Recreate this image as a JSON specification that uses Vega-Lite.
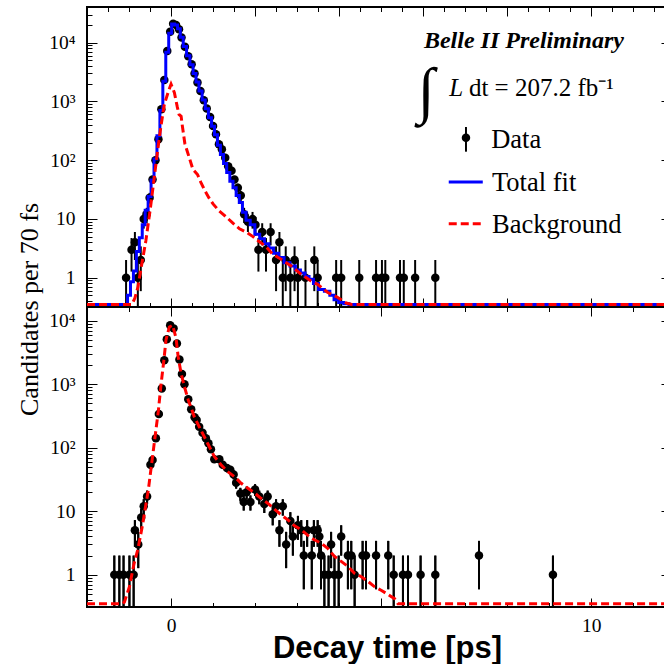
{
  "$schema": "https://vega.github.io/schema/vega-lite/v6.json",
  "background": "white",
  "padding": {"left": 15, "top": 5, "right": 0, "bottom": 0},
  "config": {
    "view": {"stroke": "black", "strokeWidth": 2},
    "axis": {"domain": false, "grid": false, "tickColor": "black", "tickWidth": 1, "labelColor": "black", "titleColor": "black", "labelFont": "Liberation Serif", "labelFontSize": 19.5, "labelFlush": false, "labelOverlap": false}
  },
  "datasets": {
    "one": [{}],
    "top": [
      {"t": -1.07, "n": 1, "lo": 0.01, "hi": 2}, {"t": -0.94, "n": 3, "lo": 1.27, "hi": 4.73}, {"t": -0.86, "n": 4, "lo": 2, "hi": 6},
      {"t": -0.79, "n": 1, "lo": 0.01, "hi": 2}, {"t": -0.72, "n": 2, "lo": 0.59, "hi": 3.41}, {"t": -0.65, "n": 10, "lo": 6.84, "hi": 13.16},
      {"t": -0.58, "n": 12, "lo": 8.54, "hi": 15.46}, {"t": -0.51, "n": 23, "lo": 18.2, "hi": 27.8}, {"t": -0.44, "n": 47, "lo": 40.14, "hi": 53.86},
      {"t": -0.37, "n": 100}, {"t": -0.30, "n": 227}, {"t": -0.23, "n": 735}, {"t": -0.16, "n": 2320}, {"t": -0.09, "n": 7200},
      {"t": -0.02, "n": 15400}, {"t": 0.05, "n": 21000}, {"t": 0.12, "n": 20000}, {"t": 0.19, "n": 17000}, {"t": 0.25, "n": 12200},
      {"t": 0.33, "n": 8500}, {"t": 0.41, "n": 5900}, {"t": 0.49, "n": 4300}, {"t": 0.56, "n": 3000}, {"t": 0.63, "n": 2100},
      {"t": 0.70, "n": 1500}, {"t": 0.78, "n": 1050}, {"t": 0.85, "n": 760}, {"t": 0.93, "n": 543}, {"t": 1.00, "n": 383},
      {"t": 1.07, "n": 277}, {"t": 1.14, "n": 186}, {"t": 1.21, "n": 153}, {"t": 1.29, "n": 110}, {"t": 1.36, "n": 79},
      {"t": 1.44, "n": 66, "lo": 57.88, "hi": 74.12}, {"t": 1.51, "n": 47, "lo": 40.14, "hi": 53.86}, {"t": 1.59, "n": 34, "lo": 28.17, "hi": 39.83},
      {"t": 1.66, "n": 25, "lo": 20, "hi": 30}, {"t": 1.74, "n": 12, "lo": 8.54, "hi": 15.46}, {"t": 1.83, "n": 9, "lo": 6, "hi": 12},
      {"t": 1.94, "n": 10, "lo": 6.84, "hi": 13.16}, {"t": 2.01, "n": 8, "lo": 5.17, "hi": 10.83}, {"t": 2.08, "n": 3, "lo": 1.27, "hi": 4.73},
      {"t": 2.17, "n": 6, "lo": 3.55, "hi": 8.45}, {"t": 2.26, "n": 3, "lo": 1.27, "hi": 4.73}, {"t": 2.37, "n": 6, "lo": 3.55, "hi": 8.45},
      {"t": 2.50, "n": 2, "lo": 0.59, "hi": 3.41}, {"t": 2.58, "n": 4, "lo": 2, "hi": 6}, {"t": 2.66, "n": 1, "lo": 0.01, "hi": 2},
      {"t": 2.73, "n": 2, "lo": 0.59, "hi": 3.41}, {"t": 2.84, "n": 1, "lo": 0.01, "hi": 2}, {"t": 2.94, "n": 2, "lo": 0.59, "hi": 3.41},
      {"t": 3.02, "n": 1, "lo": 0.01, "hi": 2}, {"t": 3.20, "n": 1, "lo": 0.01, "hi": 2}, {"t": 3.41, "n": 2, "lo": 0.59, "hi": 3.41},
      {"t": 3.49, "n": 1, "lo": 0.01, "hi": 2}, {"t": 3.93, "n": 1, "lo": 0.01, "hi": 2}, {"t": 4.05, "n": 1, "lo": 0.01, "hi": 2},
      {"t": 4.48, "n": 1, "lo": 0.01, "hi": 2}, {"t": 4.88, "n": 1, "lo": 0.01, "hi": 2}, {"t": 5.02, "n": 1, "lo": 0.01, "hi": 2},
      {"t": 5.10, "n": 1, "lo": 0.01, "hi": 2}, {"t": 5.45, "n": 1, "lo": 0.01, "hi": 2}, {"t": 5.54, "n": 1, "lo": 0.01, "hi": 2},
      {"t": 5.81, "n": 1, "lo": 0.01, "hi": 2}, {"t": 6.29, "n": 1, "lo": 0.01, "hi": 2}
    ],
    "topBlue": [
      {"t": -2.0, "v": 0.35}, {"t": -1.07, "v": 0.35}, {"t": -1.0, "v": 0.5}, {"t": -0.93, "v": 0.85}, {"t": -0.86, "v": 1.3},
      {"t": -0.79, "v": 2.8}, {"t": -0.72, "v": 4.8}, {"t": -0.65, "v": 8}, {"t": -0.58, "v": 14}, {"t": -0.51, "v": 24},
      {"t": -0.44, "v": 46}, {"t": -0.37, "v": 105}, {"t": -0.30, "v": 260}, {"t": -0.23, "v": 700}, {"t": -0.16, "v": 2200},
      {"t": -0.09, "v": 6900}, {"t": -0.02, "v": 14500}, {"t": 0.05, "v": 20800}, {"t": 0.12, "v": 20000}, {"t": 0.19, "v": 17200},
      {"t": 0.25, "v": 12400}, {"t": 0.33, "v": 8600}, {"t": 0.41, "v": 6000}, {"t": 0.49, "v": 4200}, {"t": 0.56, "v": 3000},
      {"t": 0.63, "v": 2150}, {"t": 0.70, "v": 1500}, {"t": 0.78, "v": 1060}, {"t": 0.85, "v": 750}, {"t": 0.93, "v": 530},
      {"t": 1.00, "v": 380}, {"t": 1.07, "v": 270}, {"t": 1.14, "v": 180}, {"t": 1.21, "v": 125}, {"t": 1.29, "v": 88},
      {"t": 1.36, "v": 62}, {"t": 1.44, "v": 44}, {"t": 1.51, "v": 34}, {"t": 1.59, "v": 25}, {"t": 1.66, "v": 19},
      {"t": 1.74, "v": 13}, {"t": 1.83, "v": 9.5}, {"t": 1.94, "v": 8}, {"t": 2.05, "v": 5.5}, {"t": 2.17, "v": 4.6},
      {"t": 2.28, "v": 3.8}, {"t": 2.38, "v": 3.2}, {"t": 2.50, "v": 2.6}, {"t": 2.62, "v": 2.2}, {"t": 2.76, "v": 1.8},
      {"t": 2.90, "v": 1.58}, {"t": 3.02, "v": 1.35}, {"t": 3.14, "v": 1.2}, {"t": 3.24, "v": 1.05}, {"t": 3.33, "v": 0.94},
      {"t": 3.45, "v": 0.8}, {"t": 3.57, "v": 0.63}, {"t": 3.73, "v": 0.59}, {"t": 3.83, "v": 0.5}, {"t": 3.93, "v": 0.42},
      {"t": 4.05, "v": 0.38}, {"t": 4.17, "v": 0.36}, {"t": 4.30, "v": 0.35}, {"t": 11.9, "v": 0.35}
    ],
    "topRed": [
      {"t": -2.0, "v": 0.35}, {"t": -0.93, "v": 0.35}, {"t": -0.86, "v": 0.45}, {"t": -0.79, "v": 0.68}, {"t": -0.71, "v": 1.5},
      {"t": -0.60, "v": 4.2}, {"t": -0.49, "v": 15.5}, {"t": -0.40, "v": 50}, {"t": -0.32, "v": 144}, {"t": -0.24, "v": 380},
      {"t": -0.16, "v": 890}, {"t": -0.06, "v": 1500}, {"t": 0.0, "v": 1970}, {"t": 0.08, "v": 1410}, {"t": 0.15, "v": 800},
      {"t": 0.19, "v": 600}, {"t": 0.24, "v": 560}, {"t": 0.27, "v": 380}, {"t": 0.33, "v": 190}, {"t": 0.43, "v": 113},
      {"t": 0.52, "v": 70}, {"t": 0.63, "v": 57}, {"t": 0.71, "v": 42}, {"t": 0.80, "v": 31}, {"t": 0.90, "v": 23},
      {"t": 1.00, "v": 18}, {"t": 1.15, "v": 13.6}, {"t": 1.29, "v": 11.2}, {"t": 1.48, "v": 8.4}, {"t": 1.63, "v": 6.8},
      {"t": 1.80, "v": 5.9}, {"t": 1.95, "v": 5.0}, {"t": 2.08, "v": 4.2}, {"t": 2.26, "v": 3.4}, {"t": 2.42, "v": 2.5},
      {"t": 2.62, "v": 2.06}, {"t": 2.86, "v": 1.58}, {"t": 3.10, "v": 1.14}, {"t": 3.33, "v": 0.88}, {"t": 3.49, "v": 0.77},
      {"t": 3.73, "v": 0.56}, {"t": 3.97, "v": 0.46}, {"t": 4.17, "v": 0.37}, {"t": 4.30, "v": 0.35}, {"t": 11.9, "v": 0.35}
    ],
    "bot": [
      {"t": -1.35, "n": 1, "lo": 0.01, "hi": 2}, {"t": -1.23, "n": 1, "lo": 0.01, "hi": 2}, {"t": -1.13, "n": 1, "lo": 0.01, "hi": 2},
      {"t": -0.99, "n": 1, "lo": 0.01, "hi": 2}, {"t": -0.89, "n": 1, "lo": 0.01, "hi": 2}, {"t": -0.86, "n": 5, "lo": 2.76, "hi": 7.24},
      {"t": -0.78, "n": 3, "lo": 1.27, "hi": 4.73}, {"t": -0.71, "n": 8, "lo": 5.17, "hi": 10.83}, {"t": -0.65, "n": 12, "lo": 8.54, "hi": 15.46},
      {"t": -0.57, "n": 17, "lo": 12.88, "hi": 21.12}, {"t": -0.49, "n": 54, "lo": 46.65, "hi": 61.35}, {"t": -0.44, "n": 64, "lo": 56, "hi": 72},
      {"t": -0.36, "n": 141}, {"t": -0.29, "n": 340}, {"t": -0.22, "n": 860}, {"t": -0.16, "n": 2400}, {"t": -0.10, "n": 5100},
      {"t": -0.02, "n": 8500}, {"t": 0.06, "n": 7600}, {"t": 0.14, "n": 4400}, {"t": 0.20, "n": 2450}, {"t": 0.26, "n": 1450},
      {"t": 0.32, "n": 1000}, {"t": 0.41, "n": 580}, {"t": 0.48, "n": 405}, {"t": 0.56, "n": 302}, {"t": 0.61, "n": 274},
      {"t": 0.67, "n": 215}, {"t": 0.75, "n": 173}, {"t": 0.83, "n": 141}, {"t": 0.89, "n": 118}, {"t": 0.95, "n": 95},
      {"t": 1.03, "n": 66, "lo": 57.88, "hi": 74.12}, {"t": 1.15, "n": 66, "lo": 57.88, "hi": 74.12}, {"t": 1.23, "n": 54, "lo": 46.65, "hi": 61.35},
      {"t": 1.33, "n": 48, "lo": 41.07, "hi": 54.93}, {"t": 1.41, "n": 45, "lo": 38.29, "hi": 51.71}, {"t": 1.49, "n": 38, "lo": 31.84, "hi": 44.16},
      {"t": 1.55, "n": 28, "lo": 22.71, "hi": 33.29}, {"t": 1.65, "n": 19, "lo": 14.64, "hi": 23.36}, {"t": 1.73, "n": 14, "lo": 10.26, "hi": 17.74},
      {"t": 1.80, "n": 20, "lo": 15.53, "hi": 24.47}, {"t": 1.89, "n": 14, "lo": 10.26, "hi": 17.74}, {"t": 2.00, "n": 22, "lo": 17.31, "hi": 26.69},
      {"t": 2.10, "n": 17, "lo": 12.88, "hi": 21.12}, {"t": 2.22, "n": 13, "lo": 9.39, "hi": 16.61}, {"t": 2.30, "n": 17, "lo": 12.88, "hi": 21.12},
      {"t": 2.42, "n": 9, "lo": 6, "hi": 12}, {"t": 2.50, "n": 12, "lo": 8.54, "hi": 15.46}, {"t": 2.58, "n": 5, "lo": 2.76, "hi": 7.24},
      {"t": 2.66, "n": 12, "lo": 8.54, "hi": 15.46}, {"t": 2.74, "n": 3, "lo": 1.27, "hi": 4.73}, {"t": 2.84, "n": 7, "lo": 4.35, "hi": 9.65},
      {"t": 2.90, "n": 4, "lo": 2, "hi": 6}, {"t": 3.02, "n": 6, "lo": 3.55, "hi": 8.45}, {"t": 3.10, "n": 5, "lo": 2.76, "hi": 7.24},
      {"t": 3.16, "n": 2, "lo": 0.59, "hi": 3.41}, {"t": 3.24, "n": 5, "lo": 2.76, "hi": 7.24}, {"t": 3.35, "n": 2, "lo": 0.59, "hi": 3.41},
      {"t": 3.40, "n": 5, "lo": 2.76, "hi": 7.24}, {"t": 3.49, "n": 5, "lo": 2.76, "hi": 7.24}, {"t": 3.53, "n": 4, "lo": 2, "hi": 6},
      {"t": 3.57, "n": 2, "lo": 0.59, "hi": 3.41}, {"t": 3.65, "n": 1, "lo": 0.01, "hi": 2}, {"t": 3.75, "n": 1, "lo": 0.01, "hi": 2},
      {"t": 3.81, "n": 3, "lo": 1.27, "hi": 4.73}, {"t": 3.89, "n": 1, "lo": 0.01, "hi": 2}, {"t": 3.99, "n": 1, "lo": 0.01, "hi": 2},
      {"t": 4.05, "n": 4, "lo": 2, "hi": 6}, {"t": 4.21, "n": 2, "lo": 0.59, "hi": 3.41}, {"t": 4.29, "n": 2, "lo": 0.59, "hi": 3.41},
      {"t": 4.37, "n": 1, "lo": 0.01, "hi": 2}, {"t": 4.56, "n": 2, "lo": 0.59, "hi": 3.41}, {"t": 4.64, "n": 2, "lo": 0.59, "hi": 3.41},
      {"t": 4.88, "n": 2, "lo": 0.59, "hi": 3.41}, {"t": 5.17, "n": 2, "lo": 0.59, "hi": 3.41}, {"t": 5.30, "n": 1, "lo": 0.01, "hi": 2},
      {"t": 5.52, "n": 1, "lo": 0.01, "hi": 2}, {"t": 5.64, "n": 1, "lo": 0.01, "hi": 2}, {"t": 5.94, "n": 1, "lo": 0.01, "hi": 2},
      {"t": 6.29, "n": 1, "lo": 0.01, "hi": 2}, {"t": 7.33, "n": 2, "lo": 0.59, "hi": 3.41}, {"t": 9.09, "n": 1, "lo": 0.01, "hi": 2}
    ],
    "botRed": [
      {"t": -2.0, "v": 0.35}, {"t": -1.15, "v": 0.35}, {"t": -1.11, "v": 0.37}, {"t": -0.99, "v": 0.65}, {"t": -0.88, "v": 1.5},
      {"t": -0.79, "v": 2.5}, {"t": -0.73, "v": 4}, {"t": -0.67, "v": 6.5}, {"t": -0.62, "v": 10.5}, {"t": -0.54, "v": 21.7},
      {"t": -0.46, "v": 57}, {"t": -0.38, "v": 149}, {"t": -0.30, "v": 390}, {"t": -0.24, "v": 970}, {"t": -0.17, "v": 2400},
      {"t": -0.12, "v": 5000}, {"t": -0.04, "v": 8000}, {"t": 0.04, "v": 8500}, {"t": 0.12, "v": 5300}, {"t": 0.17, "v": 2700},
      {"t": 0.24, "v": 1480}, {"t": 0.32, "v": 910}, {"t": 0.41, "v": 565}, {"t": 0.56, "v": 300}, {"t": 0.71, "v": 190},
      {"t": 0.87, "v": 118}, {"t": 1.03, "v": 73}, {"t": 1.19, "v": 54}, {"t": 1.35, "v": 42}, {"t": 1.51, "v": 35},
      {"t": 1.67, "v": 27.6}, {"t": 1.83, "v": 23}, {"t": 1.98, "v": 19.6}, {"t": 2.14, "v": 16}, {"t": 2.30, "v": 13.4},
      {"t": 2.46, "v": 10.8}, {"t": 2.62, "v": 8.8}, {"t": 2.78, "v": 7.3}, {"t": 2.94, "v": 5.9}, {"t": 3.10, "v": 5.1},
      {"t": 3.25, "v": 4.2}, {"t": 3.41, "v": 3.55}, {"t": 3.57, "v": 3.15}, {"t": 3.73, "v": 2.6}, {"t": 3.89, "v": 1.94},
      {"t": 4.05, "v": 1.62}, {"t": 4.21, "v": 1.35}, {"t": 4.36, "v": 1.06}, {"t": 4.52, "v": 0.94}, {"t": 4.68, "v": 0.79},
      {"t": 4.84, "v": 0.65}, {"t": 5.00, "v": 0.57}, {"t": 5.16, "v": 0.49}, {"t": 5.32, "v": 0.42}, {"t": 5.40, "v": 0.35},
      {"t": 11.9, "v": 0.35}
    ]
  },
  "vconcat": [
    {
      "width": 584,
      "height": 300,
      "resolve": {"axis": {"x": "independent", "y": "independent"}},
      "layer": [
        {
          "data": {"name": "top"},
          "transform": [{"filter": "isValid(datum.hi)"}],
          "mark": {"type": "rule", "color": "black", "strokeWidth": 2},
          "encoding": {
            "x": {"field": "t", "type": "quantitative", "scale": {"domain": [-2, 11.9], "nice": false, "zero": false},
                  "axis": {"orient": "bottom", "values": [0, 2, 4, 6, 8, 10], "tickSize": -9, "labels": false, "title": null}},
            "y": {"field": "lo", "type": "quantitative", "scale": {"type": "log", "domain": [0.317, 40500], "nice": false, "clamp": true},
                  "axis": {"orient": "left", "values": [1, 10, 100, 1000, 10000], "tickSize": -10, "labelPadding": 22,
                           "labelExpr": "datum.value == 10000 ? '10⁴' : datum.value == 1000 ? '10³' : datum.value == 100 ? '10²' : datum.value == 10 ? '10' : '1'",
                           "title": "Candidates per 70 fs", "titleFont": "Liberation Serif", "titleFontSize": 26, "titleFontWeight": "normal",
                           "titleAngle": 270, "titleAlign": "center", "titleBaseline": "alphabetic", "titleX": -50, "titleY": 302}},
            "y2": {"field": "hi"}
          }
        },
        {
          "data": {"name": "top"},
          "mark": {"type": "circle", "size": 72, "color": "black", "opacity": 1},
          "encoding": {
            "x": {"field": "t", "type": "quantitative", "axis": {"orient": "bottom", "values": [-1.5, -1, -0.5, 0.5, 1, 1.5, 2.5, 3, 3.5, 4.5, 5, 5.5, 6.5, 7, 7.5, 8.5, 9, 9.5, 10.5, 11, 11.5], "tickSize": -4.5, "labels": false, "title": null}},
            "y": {"field": "n", "type": "quantitative", "axis": {"orient": "left", "values": [0.4, 0.5, 0.6, 0.7, 0.8, 0.9, 2, 3, 4, 5, 6, 7, 8, 9, 20, 30, 40, 50, 60, 70, 80, 90, 200, 300, 400, 500, 600, 700, 800, 900, 2000, 3000, 4000, 5000, 6000, 7000, 8000, 9000, 20000, 30000, 40000], "tickSize": -5, "labels": false, "title": null}}
          }
        },
        {
          "data": {"name": "topBlue"},
          "mark": {"type": "line", "interpolate": "step", "color": "#0000ff", "strokeWidth": 3},
          "encoding": {
            "x": {"field": "t", "type": "quantitative", "axis": {"orient": "top", "values": [0, 2, 4, 6, 8, 10], "tickSize": -9, "labels": false, "title": null}},
            "y": {"field": "v", "type": "quantitative", "axis": {"orient": "right", "values": [1, 10, 100, 1000, 10000], "tickSize": -10, "labels": false, "title": null}}
          }
        },
        {
          "data": {"name": "topRed"},
          "mark": {"type": "line", "color": "#ff0000", "strokeWidth": 3, "strokeDash": [8, 4]},
          "encoding": {
            "x": {"field": "t", "type": "quantitative", "axis": {"orient": "top", "values": [-1.5, -1, -0.5, 0.5, 1, 1.5, 2.5, 3, 3.5, 4.5, 5, 5.5, 6.5, 7, 7.5, 8.5, 9, 9.5, 10.5, 11, 11.5], "tickSize": -4.5, "labels": false, "title": null}},
            "y": {"field": "v", "type": "quantitative", "axis": {"orient": "right", "values": [0.4, 0.5, 0.6, 0.7, 0.8, 0.9, 2, 3, 4, 5, 6, 7, 8, 9, 20, 30, 40, 50, 60, 70, 80, 90, 200, 300, 400, 500, 600, 700, 800, 900, 2000, 3000, 4000, 5000, 6000, 7000, 8000, 9000, 20000, 30000, 40000], "tickSize": -5, "labels": false, "title": null}}
          }
        },
        {
          "data": {"name": "one"},
          "mark": {"type": "text", "text": "Belle II Preliminary", "align": "left", "baseline": "alphabetic", "font": "Liberation Serif", "fontSize": 24, "fontStyle": "italic", "fontWeight": "bold", "color": "black"},
          "encoding": {"x": {"datum": 6.02, "type": "quantitative", "axis": null}, "y": {"datum": 8130, "type": "quantitative", "axis": null}}
        },
        {
          "data": {"name": "one"},
          "mark": {"type": "text", "text": "∫", "align": "center", "baseline": "middle", "font": "Liberation Serif", "fontSize": 62, "fontStyle": "italic", "fontWeight": "bold", "color": "black"},
          "encoding": {"x": {"datum": 6.06, "type": "quantitative", "axis": null}, "y": {"datum": 1449, "type": "quantitative", "axis": null}}
        },
        {
          "data": {"name": "one"},
          "mark": {"type": "text", "text": "L", "align": "left", "baseline": "alphabetic", "font": "Liberation Serif", "fontSize": 25, "fontStyle": "italic", "color": "black"},
          "encoding": {"x": {"datum": 6.62, "type": "quantitative", "axis": null}, "y": {"datum": 1238, "type": "quantitative", "axis": null}}
        },
        {
          "data": {"name": "one"},
          "mark": {"type": "text", "text": "dt = 207.2 fb⁻¹", "align": "left", "baseline": "alphabetic", "font": "Liberation Serif", "fontSize": 25, "color": "black"},
          "encoding": {"x": {"datum": 7.09, "type": "quantitative", "axis": null}, "y": {"datum": 1238, "type": "quantitative", "axis": null}}
        },
        {
          "data": {"name": "one"},
          "mark": {"type": "rule", "color": "black", "strokeWidth": 2},
          "encoding": {"x": {"datum": 7.02, "type": "quantitative", "axis": null}, "y": {"datum": 139.6, "type": "quantitative", "axis": null}, "y2": {"datum": 367}}
        },
        {
          "data": {"name": "one"},
          "mark": {"type": "circle", "size": 72, "color": "black", "opacity": 1},
          "encoding": {"x": {"datum": 7.02, "type": "quantitative", "axis": null}, "y": {"datum": 241.5, "type": "quantitative", "axis": null}}
        },
        {
          "data": {"name": "one"},
          "mark": {"type": "text", "text": "Data", "align": "left", "baseline": "alphabetic", "font": "Liberation Serif", "fontSize": 26.5, "color": "black"},
          "encoding": {"x": {"datum": 7.62, "type": "quantitative", "axis": null}, "y": {"datum": 163, "type": "quantitative", "axis": null}}
        },
        {
          "data": {"name": "one"},
          "mark": {"type": "rule", "color": "#0000ff", "strokeWidth": 3},
          "encoding": {"x": {"datum": 6.61, "type": "quantitative", "axis": null}, "x2": {"datum": 7.42}, "y": {"datum": 42.6, "type": "quantitative", "axis": null}}
        },
        {
          "data": {"name": "one"},
          "mark": {"type": "text", "text": "Total fit", "align": "left", "baseline": "alphabetic", "font": "Liberation Serif", "fontSize": 26.5, "color": "black"},
          "encoding": {"x": {"datum": 7.64, "type": "quantitative", "axis": null}, "y": {"datum": 29.9, "type": "quantitative", "axis": null}}
        },
        {
          "data": {"name": "one"},
          "mark": {"type": "rule", "color": "#ff0000", "strokeWidth": 3, "strokeDash": [8, 4]},
          "encoding": {"x": {"datum": 6.61, "type": "quantitative", "axis": null}, "x2": {"datum": 7.42}, "y": {"datum": 8.3, "type": "quantitative", "axis": null}}
        },
        {
          "data": {"name": "one"},
          "mark": {"type": "text", "text": "Background", "align": "left", "baseline": "alphabetic", "font": "Liberation Serif", "fontSize": 26.5, "color": "black"},
          "encoding": {"x": {"datum": 7.64, "type": "quantitative", "axis": null}, "y": {"datum": 5.83, "type": "quantitative", "axis": null}}
        }
      ]
    },
    {
      "width": 584,
      "height": 300,
      "resolve": {"axis": {"x": "independent", "y": "independent"}},
      "layer": [
        {
          "data": {"name": "bot"},
          "transform": [{"filter": "isValid(datum.hi)"}],
          "mark": {"type": "rule", "color": "black", "strokeWidth": 2},
          "encoding": {
            "x": {"field": "t", "type": "quantitative", "scale": {"domain": [-2, 11.9], "nice": false, "zero": false},
                  "axis": {"orient": "bottom", "values": [0, 5, 10], "tickSize": -9, "labelPadding": 18, "labelExpr": "datum.value == 5 ? '' : datum.label",
                           "title": "Decay time [ps]", "titleFont": "Liberation Sans", "titleFontSize": 31, "titleFontWeight": "bold",
                           "titleAlign": "center", "titleBaseline": "alphabetic", "titleX": 300, "titleY": 50}},
            "y": {"field": "lo", "type": "quantitative", "scale": {"type": "log", "domain": [0.31, 16500], "nice": false, "clamp": true},
                  "axis": {"orient": "left", "values": [1, 10, 100, 1000, 10000], "tickSize": -10, "labelPadding": 22,
                           "labelExpr": "datum.value == 10000 ? '10⁴' : datum.value == 1000 ? '10³' : datum.value == 100 ? '10²' : datum.value == 10 ? '10' : '1'",
                           "title": null}},
            "y2": {"field": "hi"}
          }
        },
        {
          "data": {"name": "bot"},
          "mark": {"type": "circle", "size": 72, "color": "black", "opacity": 1},
          "encoding": {
            "x": {"field": "t", "type": "quantitative", "axis": {"orient": "bottom", "values": [-1, 1, 2, 3, 4, 6, 7, 8, 9, 11], "tickSize": -4.5, "labels": false, "title": null}},
            "y": {"field": "n", "type": "quantitative", "axis": {"orient": "left", "values": [0.4, 0.5, 0.6, 0.7, 0.8, 0.9, 2, 3, 4, 5, 6, 7, 8, 9, 20, 30, 40, 50, 60, 70, 80, 90, 200, 300, 400, 500, 600, 700, 800, 900, 2000, 3000, 4000, 5000, 6000, 7000, 8000, 9000], "tickSize": -5, "labels": false, "title": null}}
          }
        },
        {
          "data": {"name": "bot"},
          "transform": [{"filter": "isValid(datum.hi)"}],
          "mark": {"type": "rule", "color": "black", "strokeWidth": 2},
          "encoding": {
            "x": {"field": "t", "type": "quantitative", "axis": {"orient": "top", "values": [-1, 1, 2, 3, 4, 6, 7, 8, 9, 11], "tickSize": -4.5, "labels": false, "title": null}},
            "y": {"field": "lo", "type": "quantitative", "axis": {"orient": "right", "values": [0.4, 0.5, 0.6, 0.7, 0.8, 0.9, 2, 3, 4, 5, 6, 7, 8, 9, 20, 30, 40, 50, 60, 70, 80, 90, 200, 300, 400, 500, 600, 700, 800, 900, 2000, 3000, 4000, 5000, 6000, 7000, 8000, 9000], "tickSize": -5, "labels": false, "title": null}},
            "y2": {"field": "hi"}
          }
        },
        {
          "data": {"name": "botRed"},
          "mark": {"type": "line", "color": "#ff0000", "strokeWidth": 3, "strokeDash": [8, 4]},
          "encoding": {
            "x": {"field": "t", "type": "quantitative", "axis": {"orient": "top", "values": [0, 5, 10], "tickSize": -9, "labels": false, "title": null}},
            "y": {"field": "v", "type": "quantitative", "axis": {"orient": "right", "values": [1, 10, 100, 1000, 10000], "tickSize": -10, "labels": false, "title": null}}
          }
        }
      ]
    }
  ],
  "spacing": 0,
  "bounds": "flush"
}
